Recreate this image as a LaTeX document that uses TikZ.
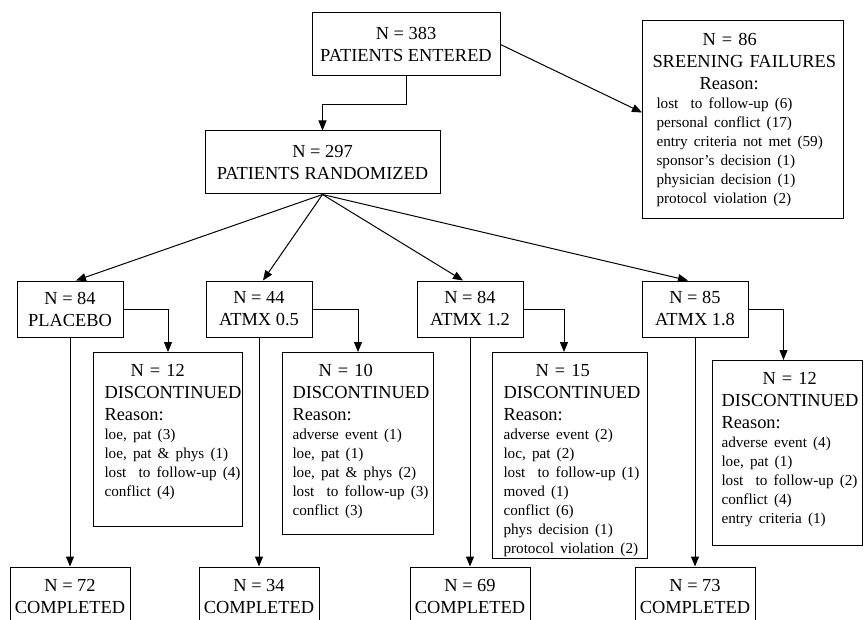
\documentclass[tikz,border=0pt]{standalone}
\usepackage{fontspec}
\setmainfont{Liberation Serif}
\usetikzlibrary{arrows.meta}

\newcommand{\hdr}{\fontsize{18.4}{22}\selectfont}
\newcommand{\lst}{\fontsize{15.2}{19}\selectfont}
\newcommand{\inset}[1]{\leftskip=#1\rightskip=0pt plus 1fil\relax}
\newcommand{\topgap}[1]{\rule{0pt}{#1}}
\newcommand{\botgap}[1]{\rule[-#1]{0pt}{#1}\par}

\begin{document}
\begin{tikzpicture}[
    x=1pt, y=-1pt,
    mainbox/.style={rectangle, draw=black, line width=1pt, inner sep=0pt, align=center, font=\hdr},
    reasonbox/.style={rectangle, draw=black, line width=1pt, inner sep=0pt, anchor=north west, align=left, font=\hdr},
    arr/.style={line width=1pt, -{Triangle[length=10pt, width=8pt]}}
]
    \useasboundingbox (0,0) rectangle (864,620);

    % Screening
    \node[mainbox, minimum width=188pt, minimum height=63pt] (entered) at (406,44.5) {N = 383\\ PATIENTS ENTERED};
    \node[reasonbox, text width=201pt] (failures) at (642,20) {\inset{14pt}\topgap{25pt}\hspace*{46pt}N = 86\\ \hspace*{-4pt}SREENING FAILURES\\ \hspace*{43pt}Reason:\\ \lst lost\ \ to follow-up (6)\\ personal conflict (17)\\ entry criteria not met (59)\\ sponsor's decision (1)\\ physician decision (1)\\ protocol violation (2)\botgap{15pt}};
    \node[mainbox, minimum width=235pt, minimum height=63pt] (randomized) at (322.5,162.5) {N = 297\\ PATIENTS RANDOMIZED};
    \draw[arr] (entered.south) -- ++(0,28) -| (randomized.north);
    \draw[arr] (entered.east) -- ([yshift=7pt]failures.west);

    % Treatment arms
    \node[mainbox, minimum width=106pt, minimum height=56pt] (placebo) at (70,309) {N = 84\\ PLACEBO};
    \node[mainbox, minimum width=106pt, minimum height=56pt] (atmx05) at (259,309) {N = 44\\ ATMX 0.5};
    \node[mainbox, minimum width=106pt, minimum height=56pt] (atmx12) at (470,309) {N = 84\\ ATMX 1.2};
    \node[mainbox, minimum width=106pt, minimum height=56pt] (atmx18) at (695,309) {N = 85\\ ATMX 1.8};
    \draw[arr] (randomized.south) -- ([xshift=6pt]placebo.north);
    \draw[arr] (randomized.south) -- ([xshift=4pt]atmx05.north);
    \draw[arr] (randomized.south) -- ([xshift=-7pt]atmx12.north);
    \draw[arr] (randomized.south) -- ([xshift=-7pt]atmx18.north);

    % Discontinued
    \node[reasonbox, text width=149pt] (stop0) at (93,352) {\inset{11pt}\topgap{24pt}\hspace*{26pt}N = 12\\ DISCONTINUED\\ Reason:\\ \lst loe, pat (3)\\ loe, pat \& phys (1)\\ lost\ \ to follow-up (4)\\ conflict (4)\botgap{30pt}};
    \node[reasonbox, text width=151pt] (stop05) at (282,352) {\inset{10pt}\topgap{24pt}\hspace*{26pt}N = 10\\ DISCONTINUED\\ Reason:\\ \lst adverse event (1)\\ loe, pat (1)\\ loe, pat \& phys (2)\\ lost\ \ to follow-up (3)\\ conflict (3)\botgap{19pt}};
    \node[reasonbox, text width=155pt] (stop12) at (492,352) {\inset{11pt}\topgap{24pt}\hspace*{32pt}N = 15\\ DISCONTINUED\\ Reason:\\ \lst adverse event (2)\\ loc, pat (2)\\ lost\ \ to follow-up (1)\\ moved (1)\\ conflict (6)\\ phys decision (1)\\ protocol violation (2)\botgap{5pt}};
    \node[reasonbox, text width=150pt] (stop18) at (712,360) {\inset{9pt}\topgap{24pt}\hspace*{41pt}N = 12\\ DISCONTINUED\\ Reason:\\ \lst adverse event (4)\\ loe, pat (1)\\ lost\ \ to follow-up (2)\\ conflict (4)\\ entry criteria (1)\botgap{22pt}};
    \draw[arr] (placebo.east) -| (stop0.north);
    \draw[arr] (atmx05.east) -| (stop05.north);
    \draw[arr] (atmx12.east) -| ([xshift=-6pt]stop12.north);
    \draw[arr] (atmx18.east) -| ([xshift=-4pt]stop18.north);

    % Completed
    \node[mainbox, minimum width=120pt, minimum height=58pt] (done0) at (70,596) {N = 72\\ COMPLETED};
    \node[mainbox, minimum width=120pt, minimum height=58pt] (done05) at (259,596) {N = 34\\ COMPLETED};
    \node[mainbox, minimum width=120pt, minimum height=58pt] (done12) at (470,596) {N = 69\\ COMPLETED};
    \node[mainbox, minimum width=120pt, minimum height=58pt] (done18) at (695,596) {N = 73\\ COMPLETED};
    \draw[arr] (placebo.south) -- (done0.north);
    \draw[arr] (atmx05.south) -- (done05.north);
    \draw[arr] (atmx12.south) -- (done12.north);
    \draw[arr] (atmx18.south) -- (done18.north);
\end{tikzpicture}
\end{document}
